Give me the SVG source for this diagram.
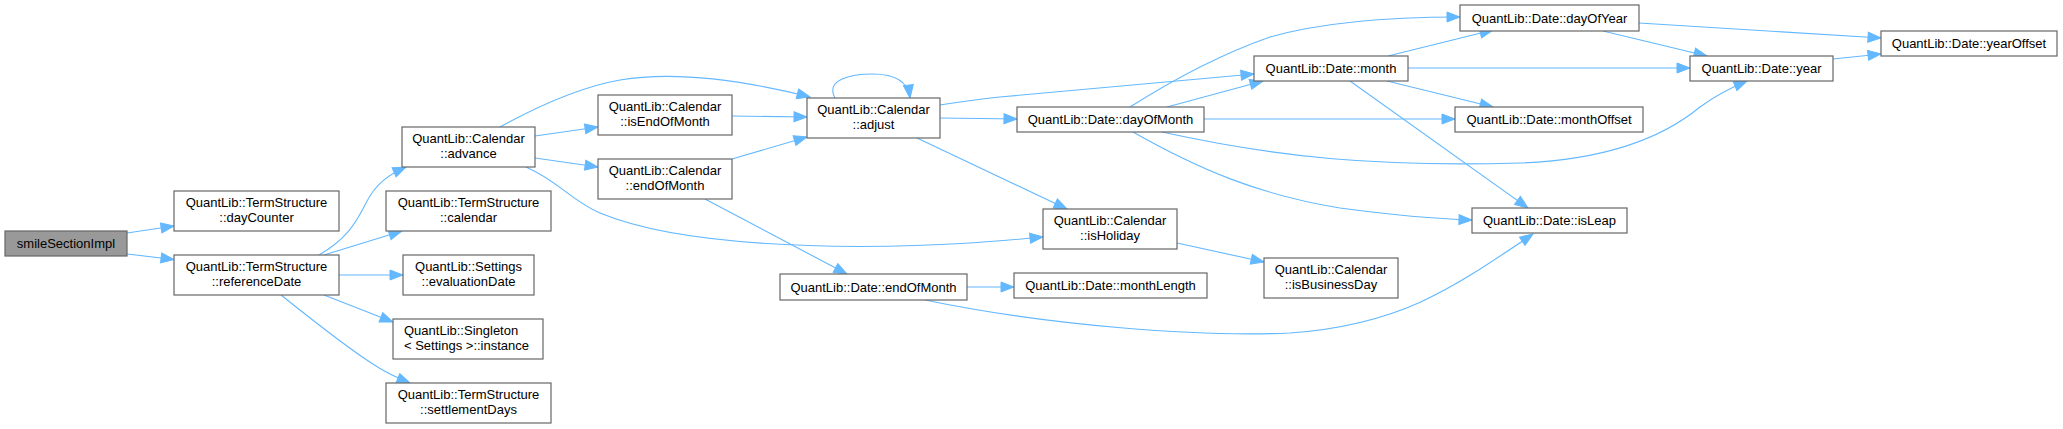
<svg xmlns="http://www.w3.org/2000/svg" width="2063" height="429" viewBox="0 0 2063 429">
<style>
.n rect{fill:#fff;stroke:#666;stroke-width:1.2}
.root rect{fill:#999;stroke:#666;stroke-width:1.2}
text{font-family:"Liberation Sans",Arial,sans-serif;font-size:13px;fill:#000;text-anchor:middle}
.l{text-anchor:start}
#edges path{fill:none;stroke:#63b8ff;stroke-width:1.1;marker-end:url(#ah)}
</style>
<defs>
<marker id="ah" markerUnits="userSpaceOnUse" markerWidth="14" markerHeight="11" refX="13" refY="5" orient="auto" overflow="visible">
<path d="M0,0 L13,5 L0,10 z" fill="#63b8ff" stroke="#63b8ff" stroke-width="1"/>
</marker>
</defs>
<rect width="2063" height="429" fill="#fff"/>
<g id="edges">
<path d="M127,233 L174,226"/>
<path d="M127,254 L174,259.5"/>
<path d="M319,255 C345,240 355,225 366,203 C376,183 390,174 406,167"/>
<path d="M324,255 L402,231"/>
<path d="M339,275 L403,275"/>
<path d="M324,295 L393,322"/>
<path d="M281,295 C316,323 350,350 376,366 C390,375 400,379 410,383"/>
<path d="M500,127 C540,105 580,87 620,80 C680,70 750,82 810,97"/>
<path d="M535,136 L598,127"/>
<path d="M535,158 L598,167"/>
<path d="M526,167 C560,182 570,200 600,213 C660,238 760,246 860,246.5 C950,246 1000,241 1043,237"/>
<path d="M732,116 L807,117"/>
<path d="M732,159 L807,137"/>
<path d="M705,199 L847,274"/>
<path d="M835,98 C825,80 850,74 873,74 C895,74 908,82 910,98"/>
<path d="M940,105 C960,102 980,99 1000,97 L1254,74"/>
<path d="M940,118 L1017,119"/>
<path d="M917,138 L1067,209"/>
<path d="M967,287 L1014,287"/>
<path d="M925,300 C1050,326 1200,337 1290,333 C1400,325 1450,290 1533,234"/>
<path d="M1177,243 L1264,262"/>
<path d="M1167,107 L1263,81"/>
<path d="M1130,107 C1160,88 1210,58 1270,37 C1330,20 1400,17 1460,17"/>
<path d="M1204,119 L1455,119"/>
<path d="M1162,132 C1280,158 1380,167 1520,163 C1600,160 1660,140 1700,107 C1715,96 1730,88 1747,81"/>
<path d="M1133,132 C1200,170 1260,195 1340,208 C1400,216 1440,219 1472,220"/>
<path d="M1388,56 L1493,30"/>
<path d="M1408,68 L1690,68"/>
<path d="M1387,81 L1493,107"/>
<path d="M1350,81 L1528,208"/>
<path d="M1639,23 L1881,38"/>
<path d="M1603,31 L1707,56"/>
<path d="M1833,59 L1881,54"/>
</g>
<g id="smileSectionImpl" class="root"><rect x="5" y="231" width="122" height="25"/><text x="66" y="248">smileSectionImpl</text></g>
<g id="dayCounter" class="n"><rect x="174" y="191" width="165" height="40"/><text x="256.5" y="207">QuantLib::TermStructure</text><text x="256.5" y="222">::dayCounter</text></g>
<g id="referenceDate" class="n"><rect x="174" y="255" width="165" height="40"/><text x="256.5" y="271">QuantLib::TermStructure</text><text x="256.5" y="286">::referenceDate</text></g>
<g id="advance" class="n"><rect x="402" y="127" width="133" height="40"/><text x="468.5" y="143">QuantLib::Calendar</text><text x="468.5" y="158">::advance</text></g>
<g id="calendar" class="n"><rect x="386" y="191" width="165" height="40"/><text x="468.5" y="207">QuantLib::TermStructure</text><text x="468.5" y="222">::calendar</text></g>
<g id="evaluationDate" class="n"><rect x="403" y="255" width="131" height="40"/><text x="468.5" y="271">QuantLib::Settings</text><text x="468.5" y="286">::evaluationDate</text></g>
<g id="instance" class="n"><rect x="393" y="319" width="150" height="40"/><text class="l" x="404" y="335">QuantLib::Singleton</text><text class="l" x="404" y="350">&lt; Settings &gt;::instance</text></g>
<g id="settlementDays" class="n"><rect x="386" y="383" width="165" height="40"/><text x="468.5" y="399">QuantLib::TermStructure</text><text x="468.5" y="414">::settlementDays</text></g>
<g id="isEndOfMonth" class="n"><rect x="598" y="95" width="134" height="40"/><text x="665" y="111">QuantLib::Calendar</text><text x="665" y="126">::isEndOfMonth</text></g>
<g id="calEndOfMonth" class="n"><rect x="598" y="159" width="134" height="40"/><text x="665" y="175">QuantLib::Calendar</text><text x="665" y="190">::endOfMonth</text></g>
<g id="adjust" class="n"><rect x="807" y="98" width="133" height="40"/><text x="873.5" y="114">QuantLib::Calendar</text><text x="873.5" y="129">::adjust</text></g>
<g id="isHoliday" class="n"><rect x="1043" y="209" width="134" height="40"/><text x="1110" y="225">QuantLib::Calendar</text><text x="1110" y="240">::isHoliday</text></g>
<g id="dateEndOfMonth" class="n"><rect x="780" y="274" width="187" height="26"/><text x="873.5" y="291.5">QuantLib::Date::endOfMonth</text></g>
<g id="dayOfMonth" class="n"><rect x="1017" y="107" width="187" height="25"/><text x="1110.5" y="124">QuantLib::Date::dayOfMonth</text></g>
<g id="monthLength" class="n"><rect x="1014" y="273" width="193" height="25"/><text x="1110.5" y="290">QuantLib::Date::monthLength</text></g>
<g id="isBusinessDay" class="n"><rect x="1264" y="258" width="134" height="40"/><text x="1331" y="274">QuantLib::Calendar</text><text x="1331" y="289">::isBusinessDay</text></g>
<g id="month" class="n"><rect x="1254" y="56" width="154" height="25"/><text x="1331" y="73">QuantLib::Date::month</text></g>
<g id="dayOfYear" class="n"><rect x="1460" y="5" width="179" height="26"/><text x="1549.5" y="22.5">QuantLib::Date::dayOfYear</text></g>
<g id="monthOffset" class="n"><rect x="1455" y="107" width="188" height="25"/><text x="1549" y="124">QuantLib::Date::monthOffset</text></g>
<g id="isLeap" class="n"><rect x="1472" y="208" width="155" height="25"/><text x="1549.5" y="225">QuantLib::Date::isLeap</text></g>
<g id="year" class="n"><rect x="1690" y="56" width="143" height="25"/><text x="1761.5" y="73">QuantLib::Date::year</text></g>
<g id="yearOffset" class="n"><rect x="1881" y="31" width="176" height="25"/><text x="1969" y="48">QuantLib::Date::yearOffset</text></g>
</svg>
